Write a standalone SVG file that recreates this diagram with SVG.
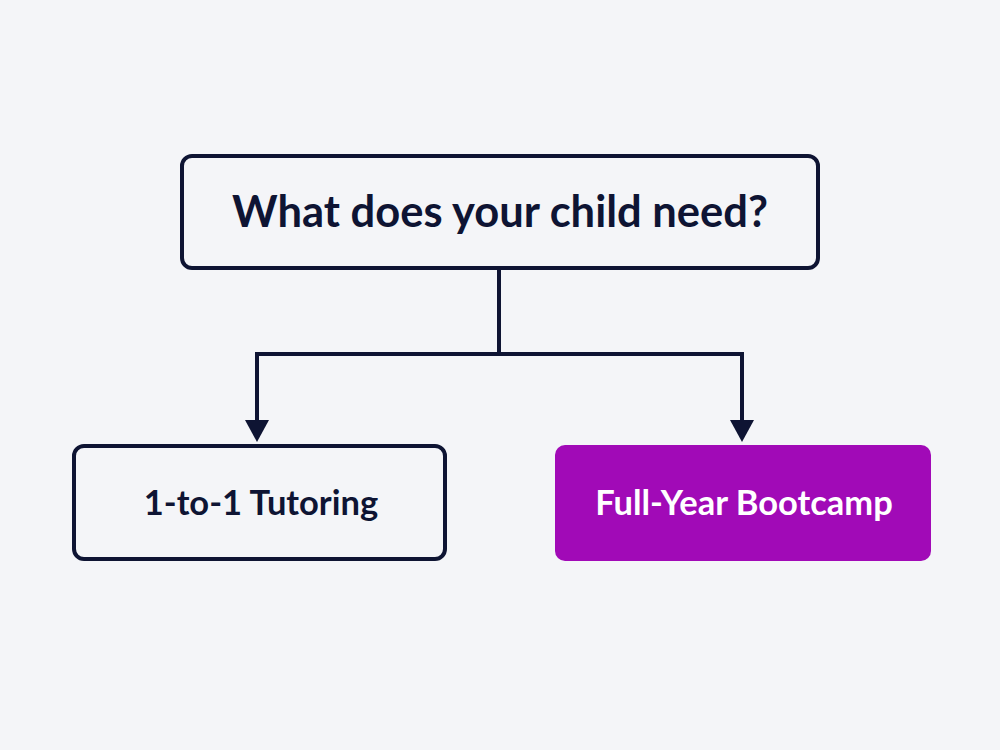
<svg xmlns="http://www.w3.org/2000/svg" width="1000" height="750" viewBox="0 0 1000 750">
<style>
.box{fill:#f4f5f8;stroke:#0e1433;stroke-width:4}
.lbl{font-family:"Lato","Noto Sans",sans-serif;font-weight:bold;text-anchor:middle;fill:#0e1433}
.wire{fill:none;stroke:#0e1433;stroke-width:4}
</style>
<rect width="1000" height="750" fill="#f4f5f8"/>
<g id="connectors">
<path class="wire" d="M499,268 V354 H257 V420"/>
<path class="wire" d="M499,354 H742 V420"/>
<path d="M245,420 L269,420 L257,442 Z" fill="#0e1433"/>
<path d="M730,420 L754,420 L742,442 Z" fill="#0e1433"/>
</g>
<g id="question">
<rect class="box" x="182" y="156" width="636" height="112" rx="10"/>
<text class="lbl" x="500" y="227" font-size="43.5">What does your child need?</text>
</g>
<g id="tutoring">
<rect class="box" x="74" y="446" width="371" height="113" rx="10"/>
<text class="lbl" x="261" y="515" font-size="34.5">1-to-1 Tutoring</text>
</g>
<g id="bootcamp">
<rect x="555" y="445" width="376" height="116" rx="10" fill="#a10ab7"/>
<text class="lbl" x="744" y="515" font-size="34.5" style="fill:#ffffff">Full-Year Bootcamp</text>
</g>
</svg>
